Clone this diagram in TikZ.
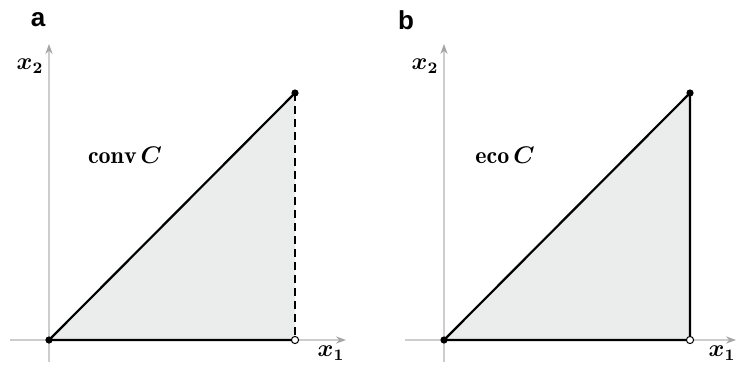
\documentclass[tikz,border=0pt]{standalone}
\usepackage{amsmath,amssymb}
\usepackage{fontspec}
\newfontfamily\panelfont{Liberation Sans}
\usetikzlibrary{arrows.meta}
\definecolor{regiongray}{RGB}{235,236,236}
\definecolor{axisgray}{RGB}{205,205,205}
\definecolor{tipgray}{RGB}{165,165,165}

\begin{document}
\begin{tikzpicture}[x=0.5pt,y=-0.5pt,every node/.style={font=\large},
  axis/.style={draw=axisgray,line width=0.6pt,-{Stealth[length=5pt,width=3.6pt,color=tipgray]}},
  edge/.style={line width=1.1pt,line cap=round},
  dot/.style={circle,fill=black,inner sep=0pt,minimum size=3.6pt},
  hole/.style={circle,draw=black,fill=white,line width=0.5pt,inner sep=0pt,minimum size=3.6pt},
  panel/.style={font=\panelfont\fontsize{13}{13}\selectfont\bfseries}]
\useasboundingbox (0,0) rectangle (737,377);
% panel a
\coordinate (aO) at (49,340);
\coordinate (aT) at (295,93);
\coordinate (aR) at (295,340);
\draw[axis] (10,340) -- (346,340);
\draw[axis] (49,362) -- (49,44);
\fill[regiongray] (aO) -- (aT) -- (aR) -- cycle;
\draw[edge] (aR) -- (aO) -- (aT);
\draw[edge,dashed,line cap=butt,dash pattern=on 4pt off 2.5pt] (aT) -- (aR);
\node[dot] (dotaO) at (aO) {};
\node[dot] (dotaT) at (aT) {};
\node[hole] (dotaR) at (aR) {};
\node[panel] (labela) at (38,20) {a};
\node (ya) at (30,66) {$\boldsymbol{x}_{\boldsymbol{2}}$};
\node (xa) at (331,353) {$\boldsymbol{x}_{\boldsymbol{1}}$};
\node (conv) at (125,155) {$\mathbf{conv}\,\boldsymbol{C}$};
% panel b
\coordinate (bO) at (444,340);
\coordinate (bT) at (690,93);
\coordinate (bR) at (690,340);
\draw[axis] (405,340) -- (736,340);
\draw[axis] (444,362) -- (444,44);
\fill[regiongray] (bO) -- (bT) -- (bR) -- cycle;
\draw[edge] (bR) -- (bO) -- (bT) -- (bR);
\node[dot] (dotbO) at (bO) {};
\node[dot] (dotbT) at (bT) {};
\node[hole] (dotbR) at (bR) {};
\node[panel] (labelb) at (406,20) {b};
\node (yb) at (425,66) {$\boldsymbol{x}_{\boldsymbol{2}}$};
\node (xb) at (722,353) {$\boldsymbol{x}_{\boldsymbol{1}}$};
\node (eco) at (505,155) {$\mathbf{eco}\,\boldsymbol{C}$};
\end{tikzpicture}
\end{document}
